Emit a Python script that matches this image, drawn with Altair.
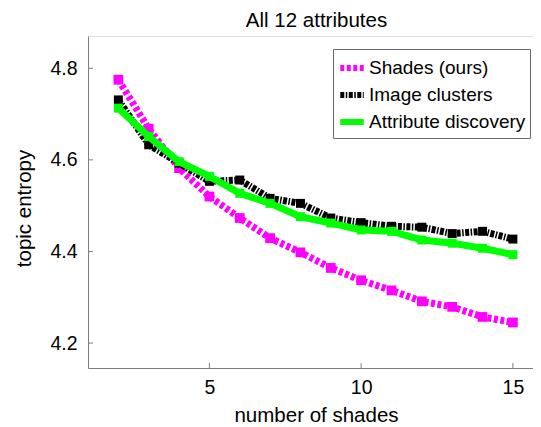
import altair as alt
import pandas as pd

shades_x = list(range(2, 16))
shades_ours = [4.775, 4.668, 4.582, 4.520, 4.473, 4.429, 4.398, 4.364, 4.337, 4.315, 4.291, 4.279, 4.257, 4.245]
image_clusters = [4.731, 4.633, 4.593, 4.553, 4.556, 4.516, 4.505, 4.473, 4.463, 4.455, 4.453, 4.439, 4.444, 4.427]
attr_discovery = [4.713, 4.651, 4.596, 4.564, 4.527, 4.505, 4.476, 4.462, 4.447, 4.444, 4.425, 4.418, 4.407, 4.393]

series_names = ["Shades (ours)", "Image clusters", "Attribute discovery"]
series_colors = ["#ff00ff", "#000000", "#00ff00"]
series_dash = [[4, 2.5], [4, 1.5, 1.5, 1.5], [1, 0]]
marker_sizes = [95, 80, 80]

x_ticks = [5, 10, 15]
y_ticks = [4.2, 4.4, 4.6, 4.8]

rows = []
for name, vals in zip(series_names, [shades_ours, image_clusters, attr_discovery]):
    for xv, yv in zip(shades_x, vals):
        rows.append({"shades": xv, "entropy": yv, "method": name})
df = pd.DataFrame(rows)

W, H = 445, 332
xdom = [1, 1 + W / 30.35]
ydom = [4.1455, 4.8705]
FONT = "Liberation Sans"

xscale = alt.Scale(domain=xdom, nice=False, zero=False)
yscale = alt.Scale(domain=ydom, nice=False, zero=False)

color_enc = alt.Color("method:N", scale=alt.Scale(domain=series_names, range=series_colors),
                      legend=alt.Legend(title=None, orient="none", legendX=245, legendY=13,
                                        symbolType="stroke", symbolSize=550, symbolStrokeWidth=6,
                                        symbolOffset=0, labelExpr="datum.label + '  '",
                                        labelFontSize=19, labelFont=FONT, labelOffset=2,
                                        strokeColor="#666666", padding=4, rowPadding=0,
                                        fillColor="white", labelLimit=400))
dash_enc = alt.StrokeDash("method:N", scale=alt.Scale(domain=series_names, range=series_dash),
                          legend=None)

x_enc = alt.X("shades:Q", scale=xscale,
              axis=alt.Axis(values=x_ticks, title="number of shades", grid=False, tickSize=0,
                            labelPadding=10, titlePadding=9, titleX=228, domainColor="#7f7f7f",
                            labelFontSize=19.5, titleFontSize=20.5, labelFont=FONT, titleFont=FONT,
                            titleFontWeight="normal", labelColor="black", titleColor="black"))
y_enc = alt.Y("entropy:Q", scale=yscale,
              axis=alt.Axis(values=y_ticks, format=".1f", title="topic entropy", grid=False, tickSize=0,
                            labelPadding=11, titlePadding=15, titleY=172, domainColor="#7f7f7f",
                            labelFontSize=19.5, titleFontSize=20.5, labelFont=FONT, titleFont=FONT,
                            titleFontWeight="normal", labelColor="black", titleColor="black"))

layers = []
for name, col, msize in zip(series_names, series_colors, marker_sizes):
    sub = alt.Chart(df).transform_filter(alt.datum.method == name)
    line = sub.mark_line(strokeWidth=7, strokeCap="butt", clip=False).encode(
        x=x_enc, y=y_enc, color=color_enc, strokeDash=dash_enc)
    pts = sub.mark_point(shape="square", filled=True, size=msize, opacity=1).encode(
        x=alt.X("shades:Q", scale=xscale), y=alt.Y("entropy:Q", scale=yscale),
        color=alt.value(col))
    layers += [line, pts]

xt = alt.Chart(pd.DataFrame({"t": x_ticks})).mark_rule(color="#7f7f7f", strokeWidth=1).encode(
    x=alt.X("t:Q", scale=xscale), y=alt.value(H), y2=alt.value(H - 5))
yt = alt.Chart(pd.DataFrame({"t": y_ticks})).mark_rule(color="#7f7f7f", strokeWidth=1).encode(
    y=alt.Y("t:Q", scale=yscale), x=alt.value(0), x2=alt.value(5))

chart = alt.layer(*layers, xt, yt).properties(
    width=W, height=H,
    title=alt.TitleParams("All 12 attributes", font=FONT, fontSize=20.5, fontWeight="normal",
                          color="black", anchor="middle", offset=5, dx=6),
    autosize=alt.AutoSizeParams(type="none"),
    padding={"left": 80, "top": 28, "right": 0, "bottom": 59},
).configure_view(stroke=None).configure(background="white")

chart.save("out.html", embed_options={"renderer": "svg", "actions": False})
